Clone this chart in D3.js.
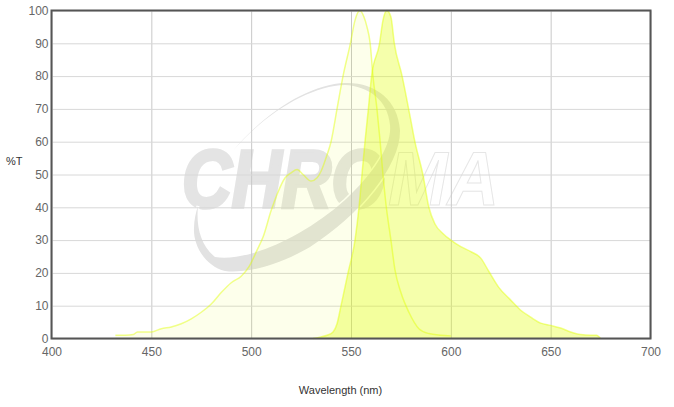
<!DOCTYPE html>
<html>
<head>
<meta charset="utf-8">
<script src="https://cdn.jsdelivr.net/npm/d3@7"></script>
<style>
  body { margin: 0; background: #fff; }
  svg { display: block; font-family: "Liberation Sans", Arial, sans-serif; }
  .tick text { font-size: 12px; fill: #666; }
  .grid-x line { stroke: #c8c8c8; }
  .grid-y line { stroke: #d8d8d8; }
  .title { font-size: 11px; fill: #333; }
</style>
</head>
<body>
<div id="chart"></div>
<script>
// spectra, wavelength (nm) against %T
var exWave = [432, 437, 441, 443, 450, 455, 460, 465, 470, 475, 480, 485, 490, 495, 499, 503, 506, 510, 513, 517, 520, 523, 526, 530, 533, 535, 538, 540, 543, 546, 549.7, 552, 554.5, 556.5, 558, 559.6, 561, 563, 564.6, 566, 567.5, 570, 572, 575, 579, 584, 589, 595, 600];
var exVal = [1, 1, 1.2, 2, 2, 3, 3.5, 4.5, 6, 8, 10.5, 14, 17, 19, 22, 27, 31, 39, 44, 49, 50.5, 51.5, 50, 48, 49, 51, 56, 60, 70, 80, 90, 97, 100, 98, 95, 90, 80, 70, 60, 50, 41, 30, 21, 14, 8, 3, 1.5, 1, 0.8];

var emWave = [531, 535, 538, 541, 543, 545, 548.5, 552, 554, 555.5, 557, 558.7, 560.3, 564.3, 566, 568, 570, 571.7, 575.6, 579.5, 582, 586, 589, 592, 596, 600, 605, 610, 615, 619, 624, 630, 635, 640, 645, 650, 655, 660, 665, 670, 673, 675];
var emVal = [0, 0.5, 1, 2, 4.5, 10, 20, 30, 40, 50, 60, 70, 80, 90, 97, 100, 98, 90, 80, 68, 60, 50, 40, 35, 32, 30, 28, 26.5, 24.5, 20.5, 15.6, 11.7, 8.6, 6.5, 4.7, 4, 3.2, 2, 1.2, 1, 1, 0];

var xTicks = [400, 450, 500, 550, 600, 650, 700];
var yTicks = [0, 10, 20, 30, 40, 50, 60, 70, 80, 90, 100];

var svg = d3.select("#chart").append("svg")
  .attr("width", 674)
  .attr("height", 407);

var x = d3.scaleLinear().domain([400, 700]).range([51.5, 650.5]);
var y = d3.scaleLinear().domain([0, 100]).range([338.5, 10.5]);

// watermark goes under everything else
var logo = svg.append("g");
logo.append("text")
  .attr("transform", "translate(182,207) scale(0.84,1)")
  .attr("font-size", 82)
  .attr("font-weight", "bold")
  .attr("font-style", "italic")
  .attr("fill", "#e4e4e4")
  .attr("stroke", "#e4e4e4")
  .attr("stroke-width", 3.5)
  .text("CHRO");
logo.append("text")
  .attr("transform", "translate(388,205) scale(0.94,1)")
  .attr("font-size", 76)
  .attr("font-weight", "bold")
  .attr("font-style", "italic")
  .attr("fill", "#fff")
  .attr("stroke", "#e6e6e6")
  .attr("stroke-width", 1)
  .text("MA");
logo.append("path")
  .attr("d", "M232,152 C265,112 310,84 345,83 C375,82 398,100 400,130 C401,165 360,215 310,247 C270,270 240,273 225,271 C205,266 193,245 194,228 C194,220 196,212 198,206 C196,225 200,245 215,257 C245,262 300,240 345,200 C375,172 392,145 390,125 C388,100 368,86 345,85 C310,86 265,113 232,152 Z")
  .attr("fill", "#e2e2e2")
  .attr("stroke", "#fff")
  .attr("stroke-width", 3)
  .attr("paint-order", "stroke");

// grid + tick labels
var gx = svg.append("g")
  .attr("class", "grid-x")
  .attr("transform", "translate(0," + y(0) + ")")
  .call(d3.axisBottom(x).tickValues(xTicks).tickSize(-(y(0) - y(100))).tickPadding(9));
gx.select(".domain").remove();

var gy = svg.append("g")
  .attr("class", "grid-y")
  .attr("transform", "translate(" + x(400) + ",0)")
  .call(d3.axisLeft(y).tickValues(yTicks).tickSize(-(x(700) - x(400))).tickPadding(3));
gy.select(".domain").remove();

var exData = exWave.map(function(d, i) { return [d, exVal[i]]; });
var emData = emWave.map(function(d, i) { return [d, emVal[i]]; });

var area = d3.area()
  .x(function(d) { return x(d[0]); })
  .y0(y(0))
  .y1(function(d) { return y(d[1]); })
  .curve(d3.curveMonotoneX);
var line = d3.line()
  .x(function(d) { return x(d[0]); })
  .y(function(d) { return y(d[1]); })
  .curve(d3.curveMonotoneX);

svg.append("path").attr("d", area(exData)).attr("fill", "rgba(224,255,0,0.08)");
svg.append("path").attr("d", area(emData)).attr("fill", "rgba(224,255,0,0.33)");
svg.append("path").attr("d", line(exData)).attr("fill", "none").attr("stroke", "rgba(224,255,0,0.45)").attr("stroke-width", 1.5);
svg.append("path").attr("d", line(emData)).attr("fill", "none").attr("stroke", "rgba(224,255,0,0.45)").attr("stroke-width", 1.5);

// frame
svg.append("rect")
  .attr("x", x(400))
  .attr("y", y(100))
  .attr("width", x(700) - x(400))
  .attr("height", y(0) - y(100))
  .attr("fill", "none")
  .attr("stroke", "#555")
  .attr("stroke-width", 2);

svg.append("text").attr("class", "title")
  .attr("x", 6).attr("y", 165)
  .text("%T");
svg.append("text").attr("class", "title")
  .attr("x", 340.5).attr("y", 394)
  .attr("text-anchor", "middle")
  .text("Wavelength (nm)");
</script>
</body>
</html>
